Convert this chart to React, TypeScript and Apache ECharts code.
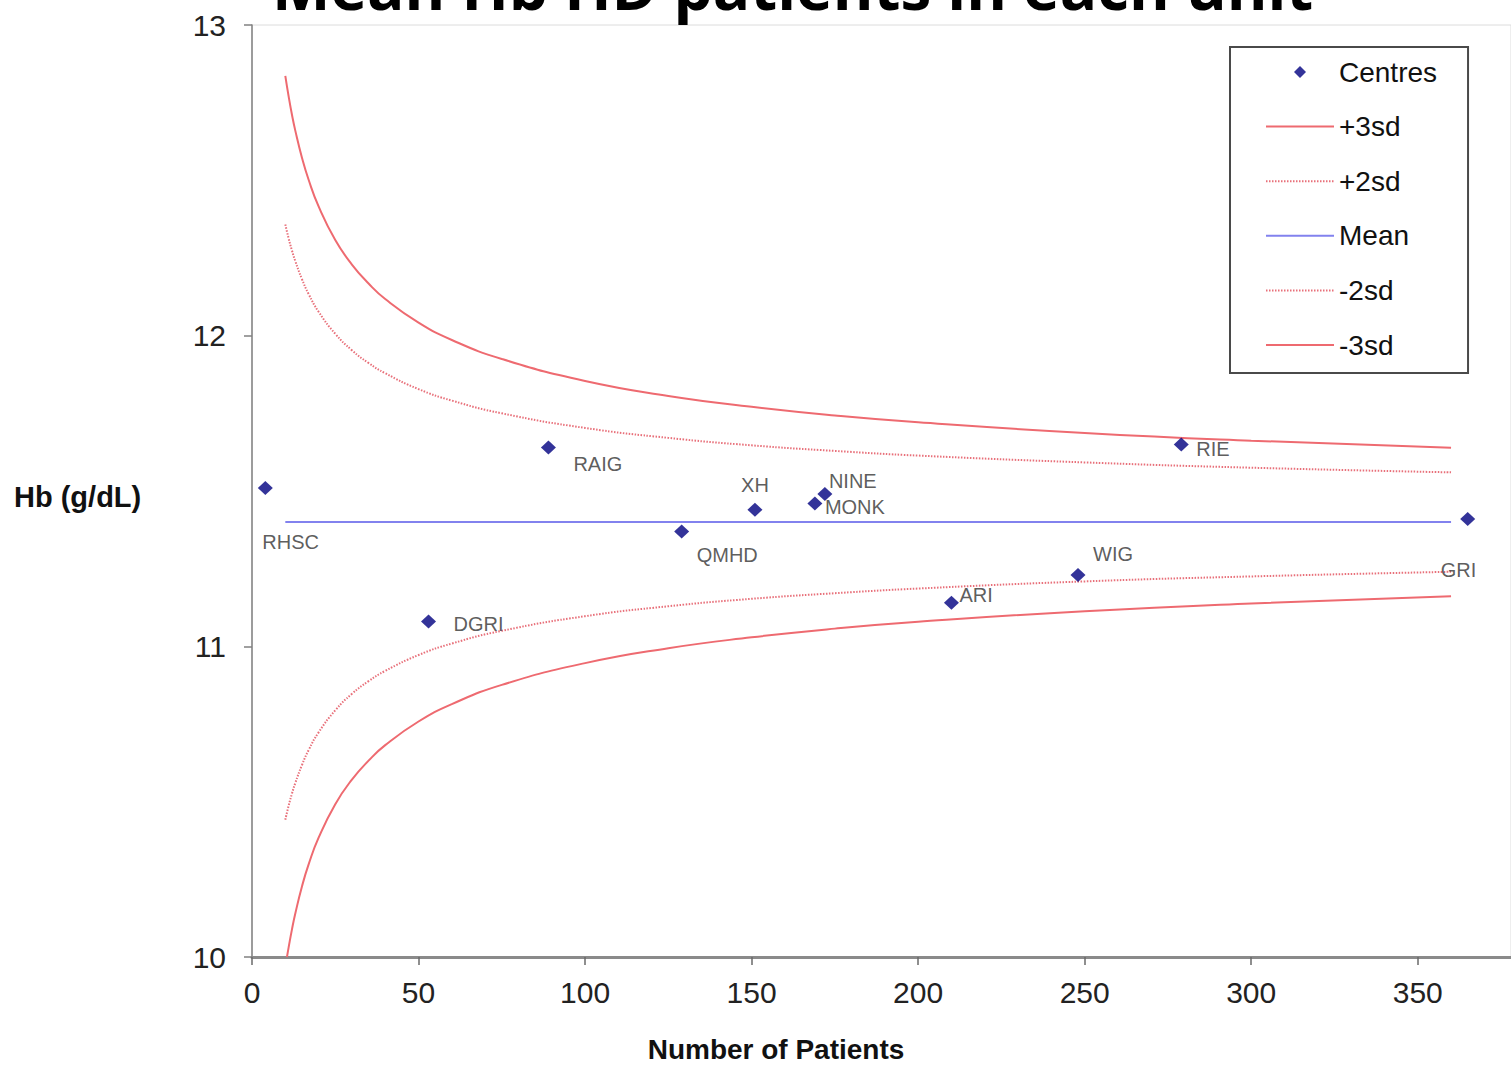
import React, { useEffect, useRef } from "react";
import * as echarts from "echarts";

// ---- data ----
const centreNames = ["RHSC", "DGRI", "RAIG", "QMHD", "XH", "MONK", "NINE", "ARI", "WIG", "RIE", "GRI"];
const centrePatients = [4, 53, 89, 129, 151, 169, 172, 210, 248, 279, 365];
const centreHb = [11.51, 11.08, 11.64, 11.37, 11.44, 11.46, 11.49, 11.14, 11.23, 11.65, 11.41];

const limitPatients = [10, 11, 12, 13, 15, 17, 20, 25, 30, 35, 40, 50, 60, 75, 100, 125, 150, 175, 200, 250, 300, 360];
const plus3sd = [12.836, 12.770, 12.711, 12.660, 12.573, 12.502, 12.416, 12.308, 12.229, 12.168, 12.118, 12.042, 11.986, 11.925, 11.854, 11.806, 11.771, 11.743, 11.721, 11.687, 11.662, 11.639];
const plus2sd = [12.358, 12.313, 12.274, 12.240, 12.182, 12.134, 12.077, 12.006, 11.953, 11.912, 11.879, 11.828, 11.791, 11.750, 11.703, 11.671, 11.647, 11.629, 11.614, 11.592, 11.575, 11.560];
const minus2sd = [10.442, 10.487, 10.526, 10.560, 10.618, 10.666, 10.723, 10.794, 10.847, 10.888, 10.921, 10.972, 11.009, 11.050, 11.097, 11.129, 11.153, 11.171, 11.186, 11.209, 11.225, 11.240];
const minus3Patients = [10.5, 11, 12, 13, 15, 17, 20, 25, 30, 35, 40, 50, 60, 75, 100, 125, 150, 175, 200, 250, 300, 360];
const minus3sd = [10.0, 10.031, 10.089, 10.140, 10.227, 10.298, 10.384, 10.492, 10.571, 10.632, 10.682, 10.758, 10.814, 10.876, 10.946, 10.994, 11.029, 11.057, 11.079, 11.113, 11.138, 11.161];
const meanPatients = [10, 360];
const meanHb = [11.4, 11.4];

const xTicks = [0, 50, 100, 150, 200, 250, 300, 350];

const titleText = "Mean Hb HD patients in each unit";
const xName = "Number of Patients";
const yName = "Hb (g/dL)";

// ---- label layout (pixels, relative to marker centre) ----
const labelLayout: Record<string, [number, number, string]> = {
  RHSC: [-3, 54, "left"],
  DGRI: [25, 3, "left"],
  RAIG: [25, 16, "left"],
  QMHD: [15, 24, "left"],
  XH: [0, -25, "center"],
  MONK: [10, 4, "left"],
  NINE: [4, -13, "left"],
  ARI: [8, -8, "left"],
  WIG: [15, -21, "left"],
  RIE: [15, 5, "left"],
  GRI: [-27, 51, "left"],
};

const FONT = "'Liberation Sans', Arial, sans-serif";
const RED = "#ee6a70";
const RED_DOT = "#e8707a";
const BLUE = "#8282ee";
const NAVY = "#000080";
const DOT: number[] = [1.5, 1.5];

const pairs = (xs: number[], ys: number[]) => xs.map((x, i) => [x, ys[i]]);

const lineLegend = (name: string, color: string, dotted: boolean) => ({
  name,
  icon: "line",
  itemStyle: {
    color: "transparent",
    borderColor: color,
    borderWidth: 2,
    borderType: dotted ? DOT : "solid",
  },
});

export default function App() {
  const ref = useRef<HTMLDivElement>(null);
  useEffect(() => {
    if (!ref.current) return;
    const chart = echarts.init(ref.current, undefined, { renderer: "svg" });
    const lineBase = { type: "line", symbol: "none", smooth: 0.5, z: 2 };
    chart.setOption({
      animation: false,
      backgroundColor: "#ffffff",
      textStyle: { fontFamily: FONT },
      grid: {
        left: 252,
        right: 0,
        top: 25,
        bottom: 108,
        show: true,
        borderColor: "#dcdcdc",
        borderWidth: 1,
        backgroundColor: "#ffffff",
      },
      xAxis: {
        type: "value",
        min: 0,
        max: 378,
        interval: 50,
        axisLine: { show: true, lineStyle: { color: "#8a8a8a", width: 3 } },
        axisTick: { show: true, length: 8, customValues: xTicks, lineStyle: { color: "#6a6a6a", width: 1.5 } },
        axisLabel: { customValues: xTicks, fontSize: 30, color: "#222", margin: 20, fontFamily: FONT },
        splitLine: { show: false },
      },
      yAxis: {
        type: "value",
        min: 10,
        max: 13,
        interval: 1,
        axisLine: { show: true, lineStyle: { color: "#808080", width: 1.5 } },
        axisTick: { show: true, length: 8, lineStyle: { color: "#808080", width: 1.5 } },
        axisLabel: { fontSize: 30, color: "#222", margin: 26, fontFamily: FONT },
        splitLine: { show: false },
      },
      legend: {
        orient: "vertical",
        left: 1230,
        top: 47,
        padding: [11, 31, 14, 35],
        itemWidth: 68,
        itemHeight: 12,
        itemGap: 26.6,
        borderColor: "#4a4a4a",
        borderWidth: 2,
        backgroundColor: "#ffffff",
        textStyle: { fontSize: 28, color: "#111", fontFamily: FONT },
        data: [
          { name: "Centres", icon: "path://M0,-5L5,0L0,5L-5,0Z" },
          lineLegend("+3sd", RED, false),
          lineLegend("+2sd", RED_DOT, true),
          lineLegend("Mean", BLUE, false),
          lineLegend("-2sd", RED_DOT, true),
          lineLegend("-3sd", RED, false),
        ],
      },
      series: [
        {
          name: "Centres",
          type: "scatter",
          symbol: "diamond",
          symbolSize: [15, 14],
          itemStyle: { color: NAVY },
          z: 5,
          data: centreNames.map((n, i) => {
            const [dx, dy, align] = labelLayout[n];
            return {
              name: n,
              value: [centrePatients[i], centreHb[i]],
              label: { offset: [dx, dy], align },
            };
          }),
          label: {
            show: true,
            position: "inside",
            formatter: "{b}",
            fontSize: 20,
            color: "#333",
            verticalAlign: "middle",
            fontFamily: FONT,
          },
        },
        { ...lineBase, name: "+3sd", data: pairs(limitPatients, plus3sd), lineStyle: { color: RED, width: 2 }, itemStyle: { color: RED } },
        { ...lineBase, name: "+2sd", data: pairs(limitPatients, plus2sd), lineStyle: { color: RED_DOT, width: 2, type: DOT }, itemStyle: { color: RED_DOT } },
        { ...lineBase, name: "Mean", smooth: false, data: pairs(meanPatients, meanHb), lineStyle: { color: BLUE, width: 2 }, itemStyle: { color: BLUE } },
        { ...lineBase, name: "-2sd", data: pairs(limitPatients, minus2sd), lineStyle: { color: RED_DOT, width: 2, type: DOT }, itemStyle: { color: RED_DOT } },
        { ...lineBase, name: "-3sd", data: pairs(minus3Patients, minus3sd), lineStyle: { color: RED, width: 2 }, itemStyle: { color: RED } },
      ],
      graphic: [
        {
          type: "text",
          x: 272,
          y: -14,
          z: 100,
          style: {
            text: titleText,
            font: "bold 62px 'Open Sans', sans-serif",
            fill: "#000",
            verticalAlign: "middle",
            align: "left",
            shadowColor: "rgba(0,0,0,0.45)",
            shadowOffsetX: 3,
            shadowOffsetY: 3,
            shadowBlur: 2,
          },
        },
        {
          type: "text",
          x: 14,
          y: 497,
          style: {
            text: yName,
            font: `bold 29px ${FONT}`,
            fill: "#111",
            verticalAlign: "middle",
            align: "left",
          },
        },
        {
          type: "text",
          x: 776,
          y: 1049,
          style: {
            text: xName,
            font: `bold 28px ${FONT}`,
            fill: "#111",
            verticalAlign: "middle",
            align: "center",
          },
        },
      ],
    });
    return () => chart.dispose();
  }, []);
  return (
    <div
      ref={ref}
      style={{ position: "fixed", left: 0, top: 0, width: 1511, height: 1065 }}
    />
  );
}
